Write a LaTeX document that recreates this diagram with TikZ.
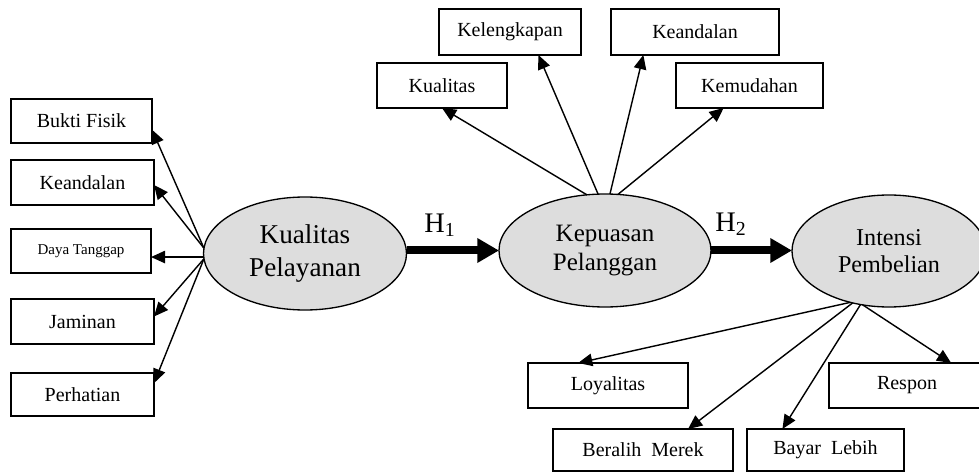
\documentclass[tikz,border=0pt]{standalone}
\usepackage{fontspec}
\setmainfont{Liberation Serif}
\usetikzlibrary{shapes.geometric,arrows.meta}
\definecolor{latgray}{RGB}{221,221,221}

\begin{document}
\begin{tikzpicture}
  [x=0.6pt,y=-0.6pt, every node/.style={inner sep=0pt,outer sep=0pt},
   box/.style={draw,rectangle,line width=0.8pt,font=\fontsize{12}{14}\selectfont},
   latent/.style={draw,ellipse,fill=latgray,line width=0.8pt,align=center},
   ind/.style={-{Triangle[length=8.5pt,width=7.5pt]},line width=0.85pt},
   hyp/.style={-{Triangle[length=13pt,width=14pt]},line width=4.8pt}] % positions are in pixels of the original, y going down
  \useasboundingbox (0,0) rectangle (979,473);
  \clip (0,0) rectangle (979,473);

  % latent variables
  \node[latent,minimum width=121.8pt,minimum height=67.8pt,font=\fontsize{16.3}{19.4}\selectfont] (kp) at (305,253.5) {Kualitas\\Pelayanan};
  \node[latent,minimum width=127.2pt,minimum height=67.8pt,font=\fontsize{15}{17}\selectfont] (ks) at (605,250.5) {Kepuasan\\Pelanggan};
  \node[latent,minimum width=116.4pt,minimum height=67.2pt,font=\fontsize{14.5}{16.4}\selectfont] (ip) at (889,251) {Intensi\\Pembelian};

  % indicators of kualitas pelayanan
  \node[box,minimum width=84.6pt,minimum height=26.4pt] (bf) at (81.5,121) {Bukti Fisik};
  \node[box,minimum width=85.8pt,minimum height=27pt] (kd) at (82.5,182.5) {Keandalan};
  \node[box,minimum width=84pt,minimum height=26.4pt,font=\fontsize{9}{11}\selectfont] (dt) at (81,251) {Daya Tanggap};
  \node[box,minimum width=85.8pt,minimum height=27pt] (jm) at (82.5,321.5) {Jaminan};
  \node[box,minimum width=85.8pt,minimum height=25.8pt] (ph) at (82.5,394.5) {Perhatian};

  % indicators of kepuasan pelanggan
  \node[box,minimum width=78pt,minimum height=27pt] (kq) at (442,85.5) {Kualitas};
  \node[box,minimum width=85.2pt,minimum height=27.6pt] (kl) at (510,32) {Kelengkapan};
  \node[box,minimum width=100.8pt,minimum height=27.6pt] (ka) at (695,32) {Keandalan};
  \node[box,minimum width=88.2pt,minimum height=27pt] (km) at (749.5,85.5) {Kemudahan};

  % indicators of intensi pembelian
  \node[box,minimum width=96pt,minimum height=27pt] (ly) at (608,385.5) {Loyalitas};
  \node[box,minimum width=108pt,minimum height=25.2pt] (bm) at (643,450) {Beralih\ \ Merek};
  \node[box,minimum width=94.2pt,minimum height=25.2pt] (bl) at (825.5,450) {Bayar\ \ Lebih\hspace{10pt}};
  \node[box,minimum width=93.6pt,minimum height=27pt] (rs) at (907,385.5) {Respon};

  % hypotheses
  \node[font=\fontsize{17}{20}\selectfont] (h1) at (440,225) {H\textsubscript{1}};
  \node[font=\fontsize{17}{20}\selectfont] (h2) at (731,224) {H\textsubscript{2}};

  \draw[ind] (kp.177) -- (bf.-7);
  \draw[ind] (kp.177) -- (kd.-2);
  \draw[ind] (kp.182) -- (kp.182 -| dt.east);
  \draw[ind] (kp.183) -- (jm.4);
  \draw[ind] (kp.183) -- (ph.9);

  \draw[ind] (ks.108) -- (kq.south);
  \draw[ind] (ks.97) -- (kl.-39);
  \draw[ind] (ks.85) -- (ka.204);
  \draw[ind] (ks.77) -- (km.221);

  \draw[ind] (ip.233) -- (ly.143);
  \draw[ind] (ip.235) -- (bm.25);
  \draw[ind] (ip.242) -- (bl.154);
  \draw[ind] (ip.244) -- (rs.27);

  \draw[hyp] (ks.west -| kp.east) -- (ks.west);
  \draw[hyp] (ks.east) -- (ks.east -| ip.west);

\end{tikzpicture}
\end{document}
